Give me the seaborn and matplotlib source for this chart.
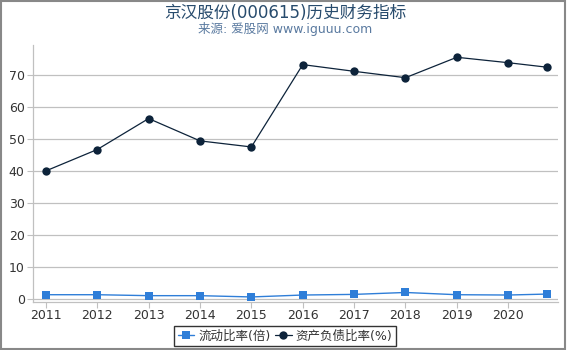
import matplotlib
matplotlib.use("Agg")
import matplotlib.pyplot as plt
import matplotlib.patches as patches
import seaborn as sns
import pandas as pd

# data
years = [2011, 2012, 2013, 2014, 2015, 2016, 2017, 2018, 2019, 2020, 2020.75]
tick_years = [2011, 2012, 2013, 2014, 2015, 2016, 2017, 2018, 2019, 2020]
current_ratio = [1.3, 1.3, 1.0, 1.0, 0.6, 1.2, 1.4, 2.0, 1.3, 1.2, 1.5]
debt_ratio = [40.1, 46.8, 56.5, 49.5, 47.6, 73.4, 71.3, 69.3, 75.7, 74.0, 72.6]

df = pd.DataFrame({"year": years, "流动比率(倍)": current_ratio, "资产负债比率(%)": debt_ratio})

sns.set_style("white")
plt.rcParams['font.family'] = ['DejaVu Sans', 'Noto Sans CJK SC']

fig = plt.figure(figsize=(5.7, 3.5), dpi=100)
ax = fig.add_axes([0.058, 0.137, 0.921, 0.734])

sns.lineplot(data=df, x="year", y="流动比率(倍)", ax=ax, color="#2f7ed8", marker="s",
             markersize=6, markeredgewidth=0, linewidth=1, label="流动比率(倍)")
sns.lineplot(data=df, x="year", y="资产负债比率(%)", ax=ax, color="#0d233a", marker="o",
             markersize=6, markeredgewidth=0, linewidth=0.9, label="资产负债比率(%)")

ax.set_xlim(2010.75, 2020.97)
ax.set_ylim(-1, 79.5)
ax.set_yticks(range(0, 80, 10))
ax.set_xticks(tick_years)
ax.set_xticklabels([str(y) for y in tick_years])
ax.grid(axis="y", color="#c0c0c0", linewidth=0.9)
ax.set_axisbelow(True)
ax.set_xlabel("")
ax.set_ylabel("")
for s in ["top", "right"]:
    ax.spines[s].set_visible(False)
for s in ["left", "bottom"]:
    ax.spines[s].set_color("#c0c0c0")
    ax.spines[s].set_linewidth(0.9)
ax.tick_params(axis="x", bottom=True, length=4, color="#c0c0c0", labelsize=9, labelcolor="#333333", pad=1)
ax.tick_params(axis="y", left=True, length=4, color="#c0c0c0", labelsize=9, labelcolor="#333333", pad=2)

handles, labels = ax.get_legend_handles_labels()
ax.get_legend().remove()
leg = fig.legend(handles, labels, loc="center", bbox_to_anchor=(0.5, 0.04), ncol=2, frameon=True,
                 fontsize=9, handlelength=1.3, handletextpad=0.3, columnspacing=0.4,
                 borderpad=0.3, fancybox=False)
leg.get_frame().set_edgecolor("black")
leg.get_frame().set_linewidth(1)
for t in leg.get_texts():
    t.set_color("#333333")

fig.text(0.5, 0.962, "京汉股份(000615)历史财务指标", ha="center", va="center", fontsize=12, color="#274b6d")
fig.text(0.5, 0.917, "来源: 爱股网 www.iguuu.com", ha="center", va="center", fontsize=9, color="#5a7aa0")

fig.patches.append(patches.Rectangle((0.001, 0.004), 0.991, 0.994, transform=fig.transFigure,
                                     fill=False, edgecolor="#888888", linewidth=1.5))

fig.savefig("out.png", dpi=100)
